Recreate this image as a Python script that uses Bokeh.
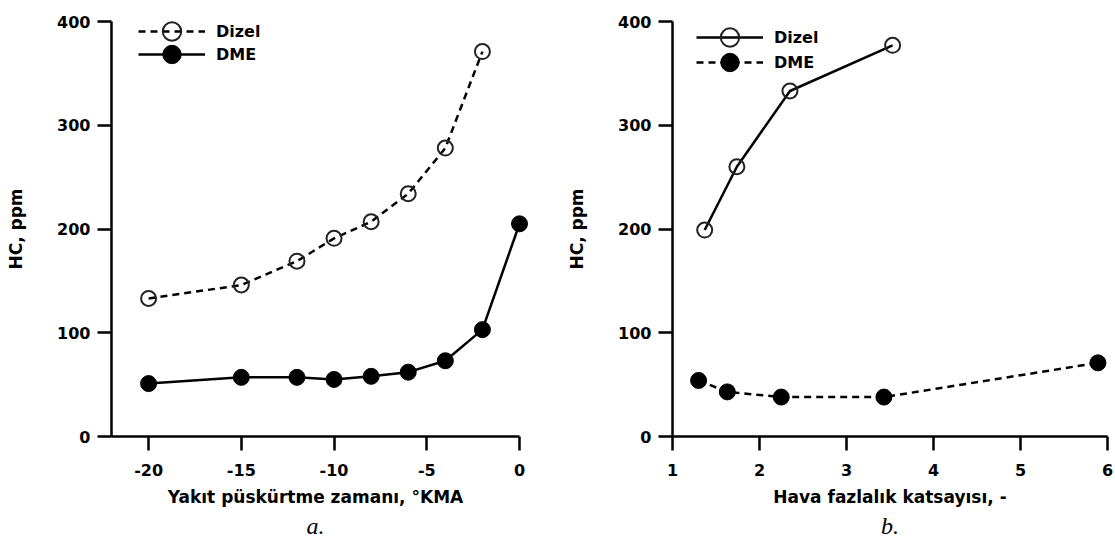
from bokeh.plotting import figure
from bokeh.models import Range1d, Legend, LegendItem, Title, FixedTicker
from bokeh.layouts import row
from bokeh.embed import file_html
from bokeh.resources import INLINE

# ---- data ----
a_timing_dizel = [-20, -15, -12, -10, -8, -6, -4, -2]
a_hc_dizel = [133, 146, 169, 191, 207, 234, 278, 371]
a_timing_dme = [-20, -15, -12, -10, -8, -6, -4, -2, 0]
a_hc_dme = [51, 57, 57, 55, 58, 62, 73, 103, 205]

b_lambda_dizel = [1.37, 1.74, 2.35, 3.53]
b_hc_dizel = [199, 260, 333, 377]
b_lambda_dme = [1.30, 1.63, 2.25, 3.43, 5.89]
b_hc_dme = [54, 43, 38, 38, 71]

a_xticks = [-20, -15, -10, -5, 0]
b_xticks = [1, 2, 3, 4, 5, 6]
yticks = [0, 100, 200, 300, 400]

FONT = "DejaVu Sans"


def style(p, xticks, xlabel, sub):
    p.grid.visible = False
    p.outline_line_color = None
    p.background_fill_color = "white"
    p.border_fill_color = "white"
    for ax in (p.xaxis[0], p.yaxis[0]):
        ax.axis_line_width = 2.5
        ax.axis_line_color = "black"
        ax.major_tick_line_width = 2.5
        ax.major_tick_line_color = "black"
        ax.major_tick_out = 14
        ax.major_tick_in = 0
        ax.minor_tick_line_color = None
        ax.major_label_text_font = FONT
        ax.major_label_text_font_style = "bold"
        ax.major_label_text_font_size = "16px"
        ax.major_label_text_color = "black"
        ax.axis_label_text_font = FONT
        ax.axis_label_text_font_style = "bold"
        ax.axis_label_text_font_size = "17px"
        ax.axis_label_text_color = "black"
    p.xaxis[0].ticker = FixedTicker(ticks=xticks)
    p.xaxis[0].major_label_overrides = {t: str(t) for t in xticks}
    p.yaxis[0].ticker = FixedTicker(ticks=yticks)
    p.xaxis[0].axis_label = xlabel
    p.yaxis[0].axis_label = "HC, ppm"
    p.xaxis[0].major_label_standoff = 13
    p.xaxis[0].axis_label_standoff = 8
    p.yaxis[0].major_label_standoff = 7
    p.yaxis[0].axis_label_standoff = 28
    p.add_layout(Title(text=sub, align="center", text_font="Liberation Serif",
                       text_font_style="italic", text_font_size="24px",
                       text_color="black", standoff=3), "below")


def series(p, x, y, dash, filled, msize):
    lr = p.line(x, y, line_color="black", line_width=2.5, line_dash=dash, level="overlay")
    if filled:
        sr = p.scatter(x, y, marker="circle", size=msize, fill_color="black",
                       line_color="black", line_width=1, level="overlay")
    else:
        sr = p.scatter(x, y, marker="circle", size=msize, fill_color=None,
                       line_color="#222222", line_width=2, level="overlay")
    return lr, sr


def legend_entry(p, label, renderers, loc):
    lg = Legend(items=[LegendItem(label=label, renderers=list(renderers))],
                location=loc, orientation="vertical",
                border_line_color=None, background_fill_alpha=0,
                padding=0, margin=0, spacing=0,
                glyph_width=67, glyph_height=46, label_standoff=11,
                label_text_font=FONT, label_text_font_style="bold",
                label_text_font_size="16px", label_text_color="black")
    p.add_layout(lg, "center")


# ---- panel a ----
pa = figure(width=560, height=542, x_range=Range1d(-22, 0), y_range=Range1d(0, 400),
            output_backend="svg", toolbar_location=None,
            min_border_left=111, min_border_right=41, min_border_top=15, min_border_bottom=106)
style(pa, a_xticks, "Yakıt püskürtme zamanı, °KMA", "a.")
a1 = series(pa, a_timing_dizel, a_hc_dizel, "7 5", False, 15)
a2 = series(pa, a_timing_dme, a_hc_dme, "solid", True, 16)
legend_entry(pa, "Dizel", a1, (27, 382))
legend_entry(pa, "DME", a2, (27, 359))

# ---- panel b ----
pb = figure(width=555, height=542, x_range=Range1d(1, 6), y_range=Range1d(0, 400),
            output_backend="svg", toolbar_location=None,
            min_border_left=112, min_border_right=8, min_border_top=21, min_border_bottom=105)
style(pb, b_xticks, "Hava fazlalık katsayısı, -", "b.")
b1 = series(pb, b_lambda_dizel, b_hc_dizel, "solid", False, 15)
b2 = series(pb, b_lambda_dme, b_hc_dme, "7 5", True, 16)
legend_entry(pb, "Dizel", b1, (24, 376))
legend_entry(pb, "DME", b2, (24, 351))

layout = row(pa, pb)
open("out.html", "w").write(file_html(layout, INLINE))
